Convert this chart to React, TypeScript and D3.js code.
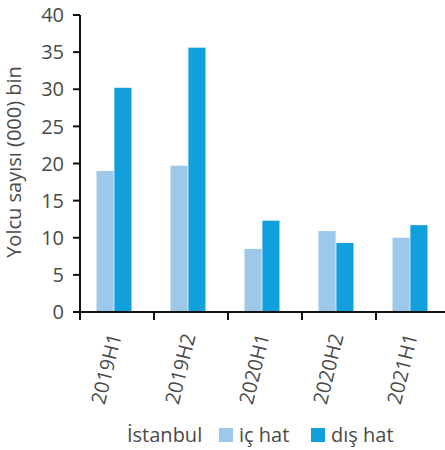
import * as d3 from "d3";
import React from "react";

const periods = ["2019H1", "2019H2", "2020H1", "2020H2", "2021H1"];
const icHat = [19.0, 19.7, 8.5, 10.9, 10.0];
const disHat = [30.2, 35.6, 12.3, 9.3, 11.7];
const yTicks = [0, 5, 10, 15, 20, 25, 30, 35, 40];
const seriesNames = ["iç hat", "dış hat"];
const colors = ["#9dc8ea", "#12a0dc"];

const width = 445;
const height = 450;
const marginLeft = 80;
const marginTop = 15;
const plotBottom = 312;
const font = "'Open Sans', 'Noto Sans', sans-serif";
const textColor = "#4a4a4a";
const fontSize = 20;

export default function App() {
  const x = d3.scaleBand<string>().domain(periods).range([77, 447]);
  const sub = d3
    .scaleBand<string>()
    .domain(seriesNames)
    .range([0, 35])
    .paddingInner(0.04);
  const y = d3.scaleLinear().domain([0, 40]).range([plotBottom, marginTop]);
  const series = [icHat, disHat];

  return (
    <svg
      width={width}
      height={height}
      style={{ position: "absolute", left: 0, top: 0, fontFamily: font }}
    >
      {/* bars */}
      {periods.map((p, i) => {
        const cx = (x(p) ?? 0) + x.bandwidth() / 2 - 17.5;
        return (
          <g key={p}>
            {series.map((s, j) => (
              <rect
                key={j}
                x={cx + (sub(seriesNames[j]) ?? 0)}
                y={y(s[i])}
                width={sub.bandwidth()}
                height={y(0) - y(s[i])}
                fill={colors[j]}
              />
            ))}
          </g>
        );
      })}

      {/* y axis */}
      <line
        x1={marginLeft}
        x2={marginLeft}
        y1={y(40)}
        y2={y(0)}
        stroke="#111"
        strokeWidth={2}
      />
      {yTicks.map((t) => (
        <g key={t} transform={`translate(0,${y(t)})`}>
          <line x1={marginLeft - 7} x2={marginLeft} stroke="#111" strokeWidth={2} />
          <text
            x={marginLeft - 16}
            dy="0.36em"
            textAnchor="end"
            fontSize={fontSize}
            fill={textColor}
          >
            {t}
          </text>
        </g>
      ))}
      <text
        transform={`translate(21,162) rotate(-90)`}
        textAnchor="middle"
        fontSize={fontSize}
        fill={textColor}
      >
        Yolcu sayısı (000) bin
      </text>

      {/* x axis */}
      <line
        x1={marginLeft - 1}
        x2={width}
        y1={y(0)}
        y2={y(0)}
        stroke="#111"
        strokeWidth={2}
      />
      {periods.map((p) => (
        <line
          key={p}
          x1={x(p)! + 3}
          x2={x(p)! + 3}
          y1={y(0)}
          y2={y(0) + 8}
          stroke="#111"
          strokeWidth={2}
        />
      ))}
      {periods.map((p) => {
        const c = (x(p) ?? 0) + x.bandwidth() / 2;
        return (
          <text
            key={p}
            transform={`translate(${c + 1},${y(0) + 22}) rotate(-76)`}
            textAnchor="end"
            dy="0.35em"
            fontSize={fontSize}
            fill={textColor}
          >
            {p}
          </text>
        );
      })}

      {/* legend */}
      <text x={127} y={442} fontSize={fontSize} fill={textColor}>
        İstanbul
      </text>
      {seriesNames.map((n, j) => {
        const lx = j === 0 ? 219 : 311;
        return (
          <g key={n}>
            <rect x={lx} y={428} width={14} height={14} fill={colors[j]} />
            <text x={lx + 20} y={442} fontSize={fontSize} fill={textColor}>
              {n}
            </text>
          </g>
        );
      })}
    </svg>
  );
}
